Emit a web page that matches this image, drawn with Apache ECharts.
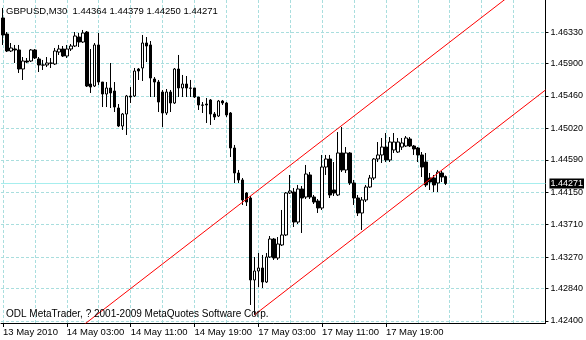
<!DOCTYPE html>
<html><head><meta charset="utf-8">
<script src="https://cdn.jsdelivr.net/npm/echarts@6/dist/echarts.min.js"></script>
<style>html,body{margin:0;padding:0;background:#fff}#c{width:586px;height:340px}</style>
</head><body><div id="c"></div>
<script>
const openP = [1.46521,1.46303,1.46072,1.46099,1.46086,1.45827,1.45936,1.45936,1.46086,1.45963,
1.45882,1.45882,1.45909,1.45895,1.46058,1.46099,1.46004,1.46099,1.46140,1.46262,
1.46194,1.46330,1.45623,1.45596,1.46154,1.45650,1.45487,1.45569,1.45528,1.45297,
1.45052,1.45215,1.45460,1.45460,1.45827,1.45841,1.46181,1.46154,1.45691,1.45650,
1.45514,1.45229,1.45514,1.45365,1.45827,1.45569,1.45623,1.45569,1.45569,1.45446,
1.45338,1.45351,1.45406,1.45215,1.45188,1.45392,1.45365,1.45229,1.44753,1.44413,
1.44318,1.44141,1.44073,1.42958,1.43080,1.43121,1.42930,1.43270,1.43515,1.43257,
1.43434,1.43570,1.44141,1.44154,1.43746,1.44195,1.44086,1.44386,1.44086,1.44032,
1.43937,1.44494,1.44603,1.44182,1.44114,1.44685,1.44454,1.44685,1.44277,1.44073,
1.43869,1.44046,1.44222,1.44345,1.44603,1.44658,1.44766,1.44590,1.44726,1.44698,
1.44766,1.44780,1.44875,1.44780,1.44753,1.44658,1.44562,1.44345,1.44345,1.44277,
1.44413,1.44364];
const closeP = [1.46290,1.46072,1.46113,1.46086,1.45827,1.45936,1.45922,1.46086,1.45977,1.45882,
1.45880,1.45909,1.45905,1.46072,1.46099,1.46004,1.46099,1.46140,1.46276,1.46194,
1.46317,1.45596,1.45582,1.46154,1.45650,1.45487,1.45569,1.45501,1.45310,1.45052,
1.45215,1.45460,1.45446,1.45800,1.45800,1.46181,1.46140,1.45705,1.45650,1.45378,
1.45229,1.45514,1.45365,1.45827,1.45569,1.45623,1.45569,1.45565,1.45446,1.45338,
1.45334,1.45338,1.45215,1.45174,1.45392,1.45365,1.45202,1.44753,1.44413,1.44318,
1.44046,1.44018,1.42958,1.43080,1.43121,1.42930,1.43270,1.43515,1.43257,1.43447,
1.43570,1.44141,1.44168,1.43746,1.44195,1.44073,1.44399,1.44086,1.44018,1.43937,
1.44494,1.44603,1.44114,1.44141,1.44685,1.44454,1.44685,1.44277,1.44073,1.43869,
1.44046,1.44222,1.44345,1.44603,1.44658,1.44766,1.44590,1.44834,1.44834,1.44834,
1.44821,1.44889,1.44780,1.44739,1.44658,1.44494,1.44250,1.44290,1.44250,1.44426,
1.44358,1.44271];
const lowP = [1.46154,1.46058,1.46058,1.45909,1.45773,1.45678,1.45909,1.45922,1.45963,1.45786,
1.45814,1.45854,1.45841,1.45882,1.46018,1.45990,1.45977,1.46072,1.46126,1.46126,
1.46181,1.45582,1.45501,1.45582,1.45610,1.45310,1.45310,1.45297,1.45242,1.45038,
1.44998,1.44930,1.45365,1.45446,1.45678,1.45664,1.45922,1.45446,1.45446,1.45242,
1.45038,1.45202,1.45242,1.45351,1.45446,1.45446,1.45446,1.45446,1.45433,1.45270,
1.45229,1.45093,1.45066,1.45134,1.45174,1.45338,1.45174,1.44630,1.44277,1.44277,
1.43978,1.43964,1.42618,1.42482,1.42862,1.42849,1.42917,1.43257,1.43230,1.43230,
1.43420,1.43556,1.44127,1.43678,1.43719,1.43597,1.44059,1.44059,1.43991,1.43869,
1.43910,1.44386,1.44073,1.44100,1.44100,1.44426,1.44413,1.44250,1.43978,1.43828,
1.43638,1.44018,1.44209,1.44318,1.44562,1.44549,1.44562,1.44562,1.44685,1.44685,
1.44726,1.44766,1.44766,1.44658,1.44562,1.44358,1.44222,1.44182,1.44154,1.44154,
1.44290,1.44250];
const highP = [1.46657,1.46330,1.46181,1.46154,1.46154,1.45990,1.45977,1.46099,1.46099,1.45990,
1.45950,1.45990,1.45977,1.46113,1.46154,1.46140,1.46154,1.46167,1.46330,1.46317,
1.46358,1.46344,1.46099,1.46181,1.46317,1.45650,1.45650,1.45909,1.45650,1.45351,
1.45229,1.45474,1.45582,1.45841,1.45841,1.46290,1.46262,1.46208,1.45718,1.45678,
1.45542,1.45555,1.45542,1.45841,1.46018,1.45746,1.45732,1.45678,1.45569,1.45446,
1.45378,1.45433,1.45419,1.45242,1.45406,1.45406,1.45378,1.45242,1.44794,1.44454,
1.44345,1.44154,1.44100,1.43270,1.43325,1.43298,1.43325,1.43556,1.43529,1.43542,
1.43910,1.44154,1.44386,1.44209,1.44250,1.44236,1.44522,1.44426,1.44114,1.44059,
1.44658,1.44658,1.44658,1.44562,1.44970,1.45038,1.44766,1.44698,1.44318,1.44114,
1.44086,1.44250,1.44386,1.44617,1.44834,1.44889,1.44957,1.44902,1.44957,1.44889,
1.44889,1.44916,1.44902,1.44794,1.44766,1.44698,1.44685,1.44413,1.44386,1.44454,
1.44440,1.44379];
const yTicks = [1.42400,1.42840,1.43270,1.43710,1.44150,1.44590,1.45020,1.45460,1.45900,1.46330];
const xTickBars = [0,16,32,48,64,80,96];
const xTickLabels = ['13 May 2010','14 May 03:00','14 May 11:00','14 May 19:00','17 May 03:00','17 May 11:00','17 May 19:00'];
const gridBars = [0,8,16,24,32,40,48,56,64,72,80,88,96,104,112,120,128];
const lastPrice = 1.44271;
const channelUpper = [[20,1.42338],[130,1.46948]];
const channelLower = [[63,1.42482],[136,1.45541]];
const header = 'GBPUSD,M30  1.44364 1.44379 1.44250 1.44271';
const copyright = 'ODL MetaTrader, ? 2001-2009 MetaQuotes Software Corp.';

const font = "'Liberation Sans', Arial, sans-serif";
const gridColor = '#a9dede';
const priceColor = '#a6eeee';
const ohlc = openP.map((o, i) => [i, o, closeP[i], lowP[i], highP[i]]);

const markData = []
  .concat(yTicks.map(v => ({yAxis: v, lineStyle: {type: [3, 2], color: gridColor, width: 1}})))
  .concat(gridBars.map(b => ({xAxis: b, lineStyle: {type: [3, 2], color: gridColor, width: 1}})))
  .concat([{yAxis: lastPrice, lineStyle: {type: 'solid', color: priceColor, width: 1},
    label: {show: true, position: 'end', distance: 4, formatter: lastPrice.toFixed(5),
      backgroundColor: '#000', color: '#fff', padding: [1, 1, 0, 1],
      fontFamily: font, fontSize: 9}}]);

const chart = echarts.init(document.getElementById('c'), null, {renderer: 'canvas'});
chart.setOption({
  animation: false,
  backgroundColor: '#ffffff',
  title: [
    {text: header, left: 6, top: 6, padding: 0,
      textStyle: {fontFamily: font, fontSize: 9.5, fontWeight: 'normal', color: '#000'}},
    {text: copyright, left: 6, top: 309, padding: 0,
      textStyle: {fontFamily: font, fontSize: 10, fontWeight: 'normal', color: '#000'}}
  ],
  grid: {left: 1, right: 39, top: 0, bottom: 17, containLabel: false},
  xAxis: {
    type: 'value', min: -0.5, max: 136,
    axisLine: {show: true, onZero: false, lineStyle: {color: '#000', width: 1}},
    axisTick: {show: true, length: 4, customValues: xTickBars, lineStyle: {color: '#000'}},
    axisLabel: {show: true, customValues: xTickBars, align: 'left', margin: 4,
      formatter: v => { const k = xTickBars.indexOf(Math.round(v)); return k >= 0 ? xTickLabels[k] : ''; },
      fontFamily: font, fontSize: 9.5, color: '#000'},
    splitLine: {show: false}
  },
  yAxis: {
    type: 'value', position: 'right', min: 1.423728, max: 1.467656,
    axisLine: {show: true, onZero: false, lineStyle: {color: '#000', width: 1}},
    axisTick: {show: true, length: 3, customValues: yTicks, lineStyle: {color: '#000'}},
    axisLabel: {show: true, customValues: yTicks, margin: 5,
      formatter: v => Number(v).toFixed(5), fontFamily: font, fontSize: 9, color: '#000'},
    splitLine: {show: false}
  },
  series: [
    {
      type: 'candlestick', data: ohlc, encode: {x: 0, y: [1, 2, 3, 4]},
      barWidth: 3, z: 2,
      itemStyle: {color: '#ffffff', color0: '#000000', borderColor: '#000000', borderColor0: '#000000', borderWidth: 1},
      markLine: {silent: true, z: 1, precision: 8, symbol: ['none', 'none'], label: {show: false},
        emphasis: {disabled: true}, data: markData}
    },
    {type: 'line', data: channelUpper, symbol: 'none', silent: true, z: 3, clip: true,
      lineStyle: {color: '#ff0000', width: 1}},
    {type: 'line', data: channelLower, symbol: 'none', silent: true, z: 3, clip: true,
      lineStyle: {color: '#ff0000', width: 1}}
  ]
});
</script></body></html>
